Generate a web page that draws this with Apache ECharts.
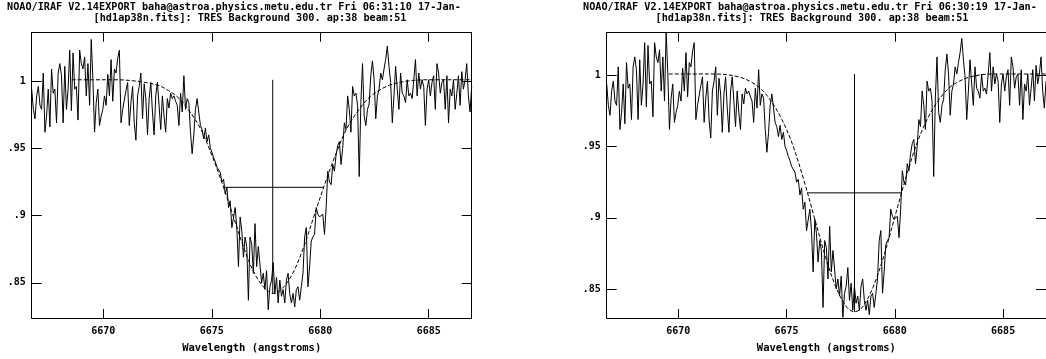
<!DOCTYPE html>
<html>
<head>
<meta charset="utf-8">
<script src="https://cdn.jsdelivr.net/npm/echarts@6.0.0/dist/echarts.min.js"></script>
<style>
html,body{margin:0;padding:0;background:#fff;}
#chart{width:1046px;height:359px;}
</style>
</head>
<body>
<div id="chart"></div>
<script>
// ---- data ----
const waveStart = 6666.70;
const waveEnd = 6686.98;
// normalized flux, uniformly sampled between waveStart and waveEnd
const flux = [
 0.994,0.979,0.972,0.989,0.996,0.982,0.979,1.006,0.962,0.974,0.994,0.966,1.009,0.991,0.994,0.969,1.006,1.013,1.004,0.969,
 1.011,0.979,0.994,1.023,0.978,1.021,0.994,0.996,0.971,1.023,1.013,1.009,1.018,0.989,1.013,0.982,1.031,1.001,0.962,0.984,
 0.994,0.967,0.974,0.979,0.989,0.982,1.005,0.989,1.016,0.985,1.009,1.006,1.017,1.023,0.969,0.979,0.980,0.993,0.999,0.967,
 0.984,0.996,0.969,0.956,0.989,0.996,1.006,0.972,0.998,0.987,0.960,0.987,0.999,0.977,0.960,0.989,0.999,0.982,0.964,0.989,
 0.974,0.962,0.987,0.980,0.991,0.987,0.989,0.985,0.982,0.967,0.991,0.977,1.004,0.979,0.987,0.984,0.962,0.946,0.960,0.979,
 0.987,0.977,0.967,0.964,
 0.957,0.965,0.955,0.960,0.950,0.947,0.943,0.940,0.936,0.935,0.932,0.925,0.927,0.916,0.921,0.906,0.911,0.891,0.892,0.906,
 0.891,0.862,0.899,0.889,0.869,0.884,0.877,0.837,0.884,0.879,0.857,0.894,0.862,0.877,0.877,0.850,0.857,0.845,0.859,0.830,
 0.847,0.852,0.865,0.842,0.854,0.835,0.852,0.840,0.845,0.835,0.852,0.857,0.842,0.835,0.842,0.832,0.845,0.847,0.837,0.847,
 0.857,0.884,0.891,0.847,0.862,0.881,0.884,0.886,0.906,0.901,0.899,0.900,0.901,0.886,0.906,0.933,0.925,
 0.923,0.938,0.933,0.945,0.952,0.955,0.938,0.950,0.969,0.964,0.989,0.979,0.962,0.996,0.989,0.991,0.982,0.929,0.984,1.013,
 0.974,0.967,0.979,0.983,1.004,1.015,1.001,0.972,0.989,0.994,1.006,1.001,1.009,1.016,1.026,1.011,0.999,0.969,0.989,1.011,
 0.994,0.979,1.006,0.991,0.989,0.984,1.001,0.989,0.991,0.987,1.001,1.016,0.989,1.006,0.994,1.001,0.996,0.967,0.994,1.001,
 0.989,0.999,1.004,0.979,1.013,1.006,0.991,0.999,1.001,0.979,1.004,0.969,0.994,0.989,1.001,0.979,0.991,1.004,0.982,1.007,
 0.994,1.001,1.013,0.989,0.977,0.996
];

// Gaussian fit drawn in the left panel (dashed)
const leftFitWave = [6668.55,6669.5,6670.5,6671.5,6672.5,6673.0,6673.5,6674.0,6674.5,6675.0,6675.5,6676.0,6676.5,6677.0,6677.5,6677.85,6678.2,6678.7,6679.2,6679.7,6680.2,6680.7,6681.2,6681.7,6682.2,6682.7,6683.2,6684.0,6685.0,6686.98];
const leftFitFlux = [1.001,1.001,1.001,1.000,0.997,0.993,0.987,0.977,0.964,0.945,0.923,0.899,0.875,0.856,0.845,0.842,0.845,0.856,0.875,0.899,0.923,0.945,0.964,0.977,0.987,0.993,0.997,1.000,1.001,1.001];
// Gaussian fit drawn in the right panel (dashed)
const rightFitWave = [6669.57,6671.79,6672.79,6673.29,6673.79,6674.29,6674.79,6675.29,6675.79,6676.29,6676.79,6677.29,6677.79,6678.14,6678.49,6678.99,6679.49,6679.99,6680.49,6680.99,6681.49,6681.99,6682.49,6682.99,6683.49,6684.49,6686.98];
const rightFitFlux = [1.001,1.001,0.999,0.996,0.991,0.982,0.969,0.951,0.927,0.900,0.873,0.851,0.837,0.834,0.837,0.851,0.873,0.900,0.927,0.951,0.969,0.982,0.991,0.996,0.999,1.001,1.001];

// line centre markers: [wavelength, continuum, core]
const leftCenter = [6677.81, 1.001, 0.842];
const rightCenter = [6678.14, 1.001, 0.834];
// FWHM markers: [blue wavelength, red wavelength, level]
const leftFwhm = [6675.53, 6680.17, 0.921];
const rightFwhm = [6675.97, 6680.30, 0.9175];

const xTicks = [6670, 6675, 6680, 6685];
const yTicks = [0.85, 0.9, 0.95, 1];
const yTickText = ['.85', '.9', '.95', '1'];
const leftYRange = [0.8238, 1.036];
const rightYRange = [0.8296, 1.030];

const titleLine1 = ['NOAO/IRAF V2.14EXPORT baha@astroa.physics.metu.edu.tr Fri 06:31:10 17-Jan-',
                    'NOAO/IRAF V2.14EXPORT baha@astroa.physics.metu.edu.tr Fri 06:30:19 17-Jan-'];
const titleLine2 = '[hd1ap38n.fits]: TRES Background 300. ap:38 beam:51';
const xName = 'Wavelength (angstroms)';

// ---- build ----
const step = (waveEnd - waveStart) / (flux.length - 1);
const spectrum = flux.map((f, i) => [waveStart + i * step, f]);
const zip = (a, b) => a.map((v, i) => [v, b[i]]);

const FONT = '"DejaVu Sans Mono", monospace';
const lblStyle = {color: '#000', fontFamily: FONT, fontWeight: 'bold', fontSize: 10};
const grids = [
  {left: 31.7, top: 32.7, width: 440, height: 289},
  {left: 606.7, top: 32.7, width: 440, height: 289}
];
const yRanges = [leftYRange, rightYRange];

const xAxes = [], yAxes = [], series = [];
grids.forEach((g, p) => {
  const axLine = {show: true, lineStyle: {color: '#000', width: 1}};
  xAxes.push({
    gridIndex: p, type: 'value', min: waveStart, max: waveEnd, position: 'bottom',
    axisLine: axLine,
    axisTick: {show: true, inside: true, length: 9, customValues: xTicks, lineStyle: {color: '#000'}},
    axisLabel: {show: true, customValues: xTicks, margin: 8, formatter: v => String(Math.round(v)), ...lblStyle},
    splitLine: {show: false},
    name: xName, nameLocation: 'middle', nameGap: 25,
    nameTextStyle: {color: '#000', fontFamily: FONT, fontWeight: 'bold', fontSize: 10.5}
  });
  xAxes.push({
    gridIndex: p, type: 'value', min: waveStart, max: waveEnd, position: 'top',
    axisLine: axLine,
    axisTick: {show: true, inside: true, length: 9, customValues: xTicks, lineStyle: {color: '#000'}},
    axisLabel: {show: false}, splitLine: {show: false}
  });
  yAxes.push({
    gridIndex: p, type: 'value', min: yRanges[p][0], max: yRanges[p][1], position: 'left',
    axisLine: axLine,
    axisTick: {show: true, inside: true, length: 10, customValues: yTicks, lineStyle: {color: '#000'}},
    axisLabel: {show: true, customValues: yTicks, margin: 6,
      formatter: v => yTickText[yTicks.findIndex(t => Math.abs(t - v) < 1e-6)] || '', ...lblStyle},
    splitLine: {show: false}
  });
  yAxes.push({
    gridIndex: p, type: 'value', min: yRanges[p][0], max: yRanges[p][1], position: 'right',
    axisLine: axLine,
    axisTick: {show: true, inside: true, length: 10, customValues: yTicks, lineStyle: {color: '#000'}},
    axisLabel: {show: false}, splitLine: {show: false}
  });
  const xi = 2 * p, yi = 2 * p;
  const fitW = p === 0 ? leftFitWave : rightFitWave;
  const fitF = p === 0 ? leftFitFlux : rightFitFlux;
  const c = p === 0 ? leftCenter : rightCenter;
  const fw = p === 0 ? leftFwhm : rightFwhm;
  series.push({type: 'line', xAxisIndex: xi, yAxisIndex: yi, data: spectrum, showSymbol: false,
    lineStyle: {color: '#000', width: 1}, clip: true, silent: true});
  series.push({type: 'line', xAxisIndex: xi, yAxisIndex: yi, data: zip(fitW, fitF), showSymbol: false,
    smooth: 0.35, lineStyle: {color: '#000', width: 1, type: [4, 2]}, clip: true, silent: true});
  series.push({type: 'line', xAxisIndex: xi, yAxisIndex: yi, data: [[c[0], c[1]], [c[0], c[2]]], showSymbol: false,
    lineStyle: {color: '#000', width: 1}, silent: true});
  series.push({type: 'line', xAxisIndex: xi, yAxisIndex: yi, data: [[fw[0], fw[2]], [fw[1], fw[2]]], showSymbol: false,
    lineStyle: {color: '#000', width: 1}, silent: true});
});

const titleFont = 'bold 10.2px ' + FONT;
const graphic = [
  {type: 'text', x: 7, y: 7, style: {text: titleLine1[0], font: titleFont, fill: '#000', textVerticalAlign: 'middle'}},
  {type: 'text', x: 250, y: 18, style: {text: titleLine2, font: titleFont, fill: '#000', textAlign: 'center', textVerticalAlign: 'middle'}},
  {type: 'text', x: 583, y: 7, style: {text: titleLine1[1], font: titleFont, fill: '#000', textVerticalAlign: 'middle'}},
  {type: 'text', x: 812, y: 18, style: {text: titleLine2, font: titleFont, fill: '#000', textAlign: 'center', textVerticalAlign: 'middle'}}
];

const chart = echarts.init(document.getElementById('chart'), null, {renderer: 'canvas'});
chart.setOption({
  animation: false,
  backgroundColor: '#fff',
  grid: grids,
  xAxis: xAxes,
  yAxis: yAxes,
  series: series,
  graphic: graphic
});
</script>
</body>
</html>
